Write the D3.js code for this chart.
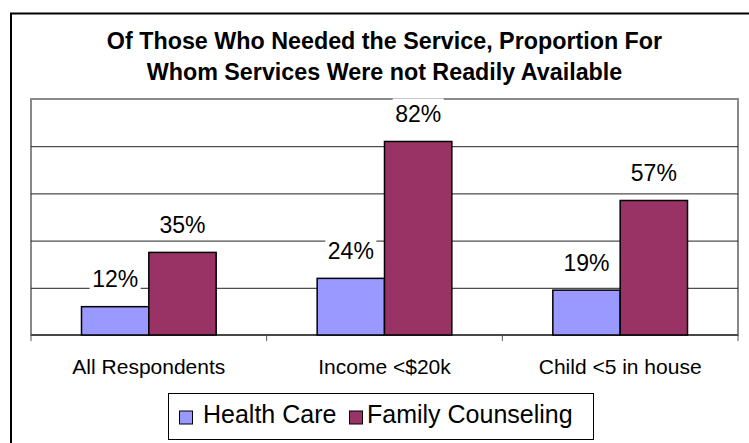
<!DOCTYPE html>
<html>
<head>
<meta charset="utf-8">
<script src="https://cdn.jsdelivr.net/npm/d3@7"></script>
<style>
  html, body { margin: 0; padding: 0; background: #fff; }
  svg { display: block; font-family: "Liberation Sans", Arial, sans-serif; }
</style>
</head>
<body>
<svg id="chart" width="749" height="443"></svg>
<script>
// Survey results by respondent group
const categories = ["All Respondents", "Income <$20k", "Child <5 in house"];
const seriesNames = ["Health Care", "Family Counseling"];
const healthCare = [0.12, 0.24, 0.19];
const familyCounseling = [0.35, 0.82, 0.57];
const gridTicks = [0.2, 0.4, 0.6, 0.8];
const titleLines = [
  "Of Those Who Needed the Service, Proportion For",
  "Whom Services Were not Readily Available"
];

const colors = { "Health Care": "#9999ff", "Family Counseling": "#993366" };
const seriesValues = { "Health Care": healthCare, "Family Counseling": familyCounseling };

const svg = d3.select("#chart");

// outer chart frame
svg.append("rect")
  .attr("x", 11).attr("y", 13.5)
  .attr("width", 780).attr("height", 480)
  .attr("fill", "#fff").attr("stroke", "#000").attr("stroke-width", 2);

// title
svg.append("g").selectAll("text")
  .data(titleLines)
  .join("text")
  .attr("x", 384.5)
  .attr("y", (d, i) => 48.5 + i * 31.5)
  .attr("text-anchor", "middle")
  .attr("font-weight", "bold")
  .attr("font-size", 23.3)
  .attr("fill", "#000")
  .text(d => d);

// plot area
const plot = { left: 31, right: 738, top: 99, bottom: 335 };

const y = d3.scaleLinear().domain([0, 1]).range([plot.bottom, plot.top]);

const gap = 1.5; // gap between groups, relative to one bar width
const x = d3.scaleBand()
  .domain(categories)
  .range([plot.left, plot.right])
  .paddingInner(gap / (2 + gap))
  .paddingOuter(gap / (2 + gap) / 2);

const xs = d3.scaleBand().domain(seriesNames).range([0, x.bandwidth()]);

// plot area border
svg.append("rect")
  .attr("x", plot.left).attr("y", plot.top)
  .attr("width", plot.right - plot.left).attr("height", plot.bottom - plot.top)
  .attr("fill", "#fff").attr("stroke", "#888").attr("stroke-width", 2);

// horizontal gridlines
const grid = svg.append("g")
  .attr("transform", `translate(${plot.left},0)`)
  .call(d3.axisLeft(y).tickValues(gridTicks).tickSize(-(plot.right - plot.left)).tickFormat(""));
grid.select(".domain").remove();
grid.selectAll(".tick line").attr("stroke", "#222").attr("stroke-width", 1);

// category axis with ticks between groups
const xAxis = svg.append("g").attr("transform", `translate(0,${plot.bottom})`);
xAxis.append("line")
  .attr("x1", plot.left).attr("x2", plot.right)
  .attr("stroke", "#333").attr("stroke-width", 1.5);
const boundaries = d3.range(categories.length + 1).map(i => plot.left + i * x.step());
xAxis.selectAll("line.sep")
  .data(boundaries)
  .join("line")
  .attr("class", "sep")
  .attr("x1", d => d).attr("x2", d => d)
  .attr("y1", 0).attr("y2", 6)
  .attr("stroke", "#555").attr("stroke-width", 1);
xAxis.selectAll("text")
  .data(categories)
  .join("text")
  .attr("x", d => x(d) + x.bandwidth() / 2)
  .attr("y", 38.5)
  .attr("text-anchor", "middle")
  .attr("font-size", 21)
  .attr("fill", "#000")
  .text(d => d);

// bars
const barData = categories.flatMap((c, i) =>
  seriesNames.map(s => ({ category: c, series: s, value: seriesValues[s][i] })));

svg.append("g").selectAll("rect")
  .data(barData)
  .join("rect")
  .attr("x", d => x(d.category) + xs(d.series))
  .attr("y", d => y(d.value))
  .attr("width", xs.bandwidth())
  .attr("height", d => y(0) - y(d.value))
  .attr("fill", d => colors[d.series])
  .attr("stroke", "#000")
  .attr("stroke-width", 1.5);

// value labels on white boxes
const labels = svg.append("g").selectAll("g")
  .data(barData)
  .join("g")
  .attr("transform", d => `translate(${x(d.category) + xs(d.series) + xs.bandwidth() / 2},${y(d.value) - 19.5})`);
labels.append("text")
  .attr("text-anchor", "middle")
  .attr("font-size", 23)
  .attr("fill", "#000")
  .text(d => d3.format(".0%")(d.value));
labels.each(function () {
  const g = d3.select(this);
  const b = g.select("text").node().getBBox();
  g.insert("rect", "text")
    .attr("x", b.x - 2.5).attr("y", -23.5)
    .attr("width", b.width + 5).attr("height", 28)
    .attr("fill", "#fff");
});

// legend
const legend = svg.append("g");
legend.append("rect")
  .attr("x", 168.5).attr("y", 393.5)
  .attr("width", 425).attr("height", 46)
  .attr("fill", "#fff").attr("stroke", "#000").attr("stroke-width", 1);
const legendX = [179.5, 349.5];
const items = legend.selectAll("g.item")
  .data(seriesNames)
  .join("g")
  .attr("class", "item")
  .attr("transform", (d, i) => `translate(${legendX[i]},0)`);
items.append("rect")
  .attr("x", 0).attr("y", 411)
  .attr("width", 13).attr("height", 13)
  .attr("fill", d => colors[d])
  .attr("stroke", "#000").attr("stroke-width", 1);
items.append("text")
  .attr("x", (d, i) => i === 0 ? 23.5 : 17.5)
  .attr("y", 423)
  .attr("font-size", 25)
  .attr("fill", "#000")
  .text(d => d);
</script>
</body>
</html>
